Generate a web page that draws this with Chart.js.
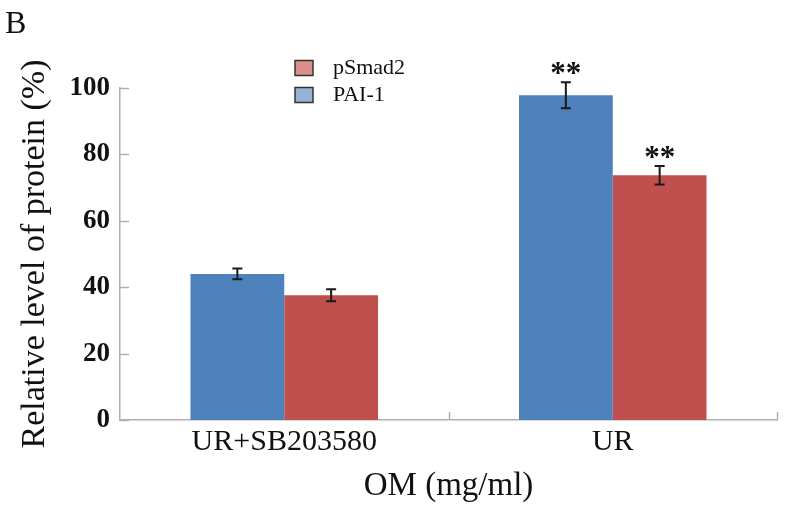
<!DOCTYPE html>
<html><head><meta charset="utf-8">
<script src="https://cdn.jsdelivr.net/npm/chart.js@4"></script>
<style>html,body{margin:0;padding:0;background:#fff}#wrap{width:788px;height:507px}</style>
</head><body><div id="wrap"><canvas id="c" width="788" height="507"></canvas></div>
<script>
const categories = ['UR+SB203580', 'UR'];
const seriesNames = ['PAI-1', 'pSmad2'];
const pai1Values = [44.0, 97.8];
const pSmad2Values = [37.6, 73.7];
const pai1Errors = [1.6, 3.9];
const pSmad2Errors = [1.8, 2.8];
const pai1Marks = ['', '**'];
const pSmad2Marks = ['', '**'];
const yTicks = [0, 20, 40, 60, 80, 100];
const panelLabel = 'B';
const xTitle = 'OM (mg/ml)';
const yTitle = 'Relative level of protein (%)';

const SERIF = '"Liberation Serif", "Times New Roman", serif';
const barColors = ['#4f81bd', '#c0504d'];
const legendFill = ['#95b3d7', '#d9908c'];
const errors = [pai1Errors, pSmad2Errors];
const marks = [pai1Marks, pSmad2Marks];

const extras = {
  id: 'extras',
  afterDraw(chart) {
    const ctx = chart.ctx;
    const xs = chart.scales.x, ys = chart.scales.y;
    ctx.save();
    // inward ticks
    ctx.strokeStyle = '#b0b0b0';
    ctx.lineWidth = 1.5;
    yTicks.forEach(v => {
      const y = Math.round(ys.getPixelForValue(v)) + 0.5;
      ctx.beginPath(); ctx.moveTo(xs.left, y); ctx.lineTo(xs.left + 9, y); ctx.stroke();
    });
    const p0 = xs.getPixelForValue(0), p1 = xs.getPixelForValue(1);
    const half = (p1 - p0) / 2;
    [p0 + half, p1 + half].forEach(x => {
      const xx = Math.round(x) + 0.5;
      ctx.beginPath(); ctx.moveTo(xx, ys.bottom); ctx.lineTo(xx, ys.bottom - 8); ctx.stroke();
    });
    // error bars and significance marks
    chart.data.datasets.forEach((ds, di) => {
      const meta = chart.getDatasetMeta(di);
      meta.data.forEach((bar, i) => {
        const v = ds.data[i], e = errors[di][i];
        const yTop = ys.getPixelForValue(v + e), yBot = ys.getPixelForValue(v - e);
        const x = bar.x;
        ctx.strokeStyle = '#1a1a1a';
        ctx.lineWidth = 2;
        ctx.beginPath();
        ctx.moveTo(x, yTop); ctx.lineTo(x, yBot);
        ctx.moveTo(x - 5, yTop); ctx.lineTo(x + 5, yTop);
        ctx.moveTo(x - 5, yBot); ctx.lineTo(x + 5, yBot);
        ctx.stroke();
        const m = marks[di][i];
        if (m) {
          ctx.fillStyle = '#111';
          ctx.font = 'bold 31px ' + SERIF;
          ctx.textAlign = 'center';
          ctx.textBaseline = 'alphabetic';
          ctx.fillText(m, x, yTop + 1);
        }
      });
    });
    // legend (reversed order)
    ctx.font = '22px ' + SERIF;
    ctx.textAlign = 'left';
    ctx.textBaseline = 'middle';
    const order = [1, 0];
    order.forEach((di, k) => {
      const yc = 68 + k * 27;
      ctx.fillStyle = legendFill[di];
      ctx.fillRect(295, yc - 7.5, 18, 15);
      ctx.strokeStyle = '#333';
      ctx.lineWidth = 1.5;
      ctx.strokeRect(295, yc - 7.5, 18, 15);
      ctx.fillStyle = '#111';
      ctx.fillText(chart.data.datasets[di].label, 333, yc);
    });
    // panel label
    ctx.font = '32px ' + SERIF;
    ctx.textBaseline = 'alphabetic';
    ctx.fillText(panelLabel, 5, 33);
    ctx.restore();
  }
};

new Chart(document.getElementById('c'), {
  type: 'bar',
  data: {
    labels: categories,
    datasets: [
      { label: seriesNames[0], data: pai1Values, backgroundColor: barColors[0], borderWidth: 0,
        categoryPercentage: 0.571, barPercentage: 1.0 },
      { label: seriesNames[1], data: pSmad2Values, backgroundColor: barColors[1], borderWidth: 0,
        categoryPercentage: 0.571, barPercentage: 1.0 }
    ]
  },
  options: {
    responsive: false,
    animation: false,
    layout: { padding: { top: 88, right: 11, left: 0, bottom: 0 } },
    plugins: { legend: { display: false }, tooltip: { enabled: false } },
    scales: {
      x: {
        grid: { display: false, drawTicks: false },
        border: { display: true, color: '#b0b0b0', width: 1.5 },
        ticks: { color: '#111', font: { family: SERIF, size: 30 }, padding: 4, maxRotation: 0 },
        title: { display: true, text: xTitle, color: '#111', font: { family: SERIF, size: 33 }, padding: { top: 1, bottom: 1 } },
        afterFit(s) { s.height = 87; }
      },
      y: {
        min: 0, max: 100,
        afterBuildTicks(s) { s.ticks = yTicks.map(v => ({ value: v })); },
        grid: { display: false, drawTicks: false },
        border: { display: true, color: '#b0b0b0', width: 1.5 },
        ticks: { color: '#111', font: { family: SERIF, size: 27, weight: 'bold' }, padding: 10 },
        title: { display: true, text: yTitle, color: '#111', font: { family: SERIF, size: 34 }, padding: { top: 15, bottom: 0 } },
        afterFit(s) { s.width = 120; }
      }
    }
  },
  plugins: [extras]
});
</script>
</body></html>
